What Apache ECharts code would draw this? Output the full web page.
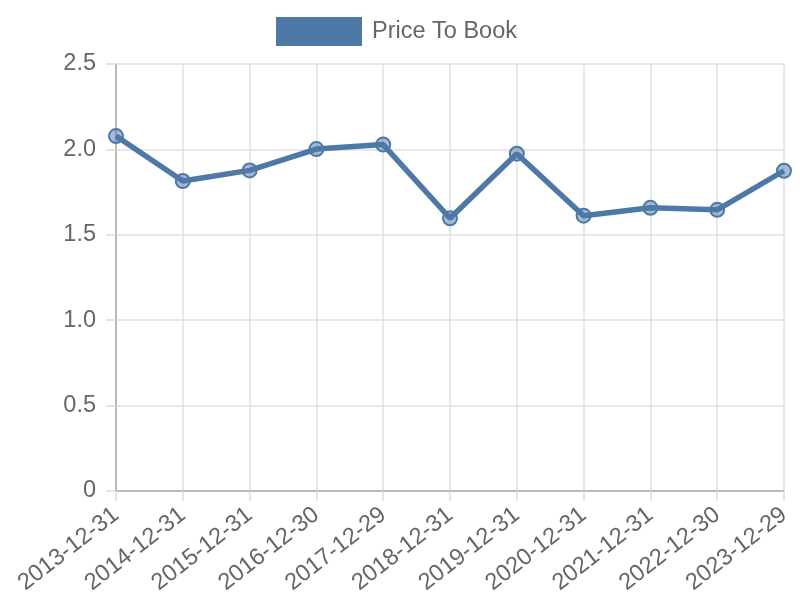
<!DOCTYPE html>
<html>
<head>
<meta charset="utf-8">
<script src="https://cdn.jsdelivr.net/npm/echarts@6/dist/echarts.min.js"></script>
<style>html,body{margin:0;padding:0;background:#fff;}#c{width:800px;height:600px;}</style>
</head>
<body>
<div id="c"></div>
<script>
const categories = ["2013-12-31","2014-12-31","2015-12-31","2016-12-30","2017-12-29","2018-12-31","2019-12-31","2020-12-31","2021-12-31","2022-12-30","2023-12-29"];
const priceToBook = [2.078, 1.815, 1.877, 2.002, 2.028, 1.597, 1.975, 1.612, 1.658, 1.646, 1.875];
const yTicks = { min: 0, max: 2.5, interval: 0.5 };
const seriesName = "Price To Book";

const chart = echarts.init(document.getElementById('c'), null, { renderer: 'canvas' });
const font = "'Liberation Sans', Arial, sans-serif";
chart.setOption({
  animation: false,
  textStyle: { fontFamily: font },
  legend: {
    top: 12,
    left: 271,
    itemWidth: 86,
    itemHeight: 29,
    itemGap: 10,
    icon: 'rect',
    textStyle: { fontSize: 23.5, color: '#666', fontFamily: font, padding: [0, 0, 0, 5] },
    data: [{ name: seriesName, itemStyle: { color: '#4e79a7', borderWidth: 0 } }]
  },
  grid: { left: 116, right: 16, top: 64, bottom: 109, containLabel: false },
  xAxis: {
    type: 'category',
    data: categories,
    boundaryGap: false,
    axisLine: { show: true, lineStyle: { color: '#aaa', width: 1.5 } },
    axisTick: { show: true, alignWithLabel: true, length: 10, lineStyle: { color: '#ddd', width: 1.5 } },
    axisLabel: { rotate: 38, fontSize: 23.5, color: '#666', margin: 21, fontFamily: font, interval: 0 },
    splitLine: { show: true, lineStyle: { color: '#e0e0e0', width: 1.5 } }
  },
  yAxis: {
    type: 'value',
    min: yTicks.min, max: yTicks.max, interval: yTicks.interval,
    axisLine: { show: true, lineStyle: { color: '#aaa', width: 1.5 } },
    axisTick: { show: true, length: 10, lineStyle: { color: '#ddd', width: 1.5 } },
    axisLabel: {
      fontSize: 23.5, color: '#666', margin: 20, fontFamily: font,
      formatter: v => v === 0 ? '0' : v.toFixed(1)
    },
    splitLine: { show: true, lineStyle: { color: '#e0e0e0', width: 1.5 } }
  },
  series: [{
    name: seriesName,
    type: 'line',
    data: priceToBook,
    symbol: 'circle',
    symbolSize: 14,
    showAllSymbol: true,
    lineStyle: { color: '#4e79a7', width: 5.5 },
    itemStyle: { color: 'rgba(78,121,167,0.5)', borderColor: '#4e79a7', borderWidth: 2 }
  }]
});
</script>
</body>
</html>
